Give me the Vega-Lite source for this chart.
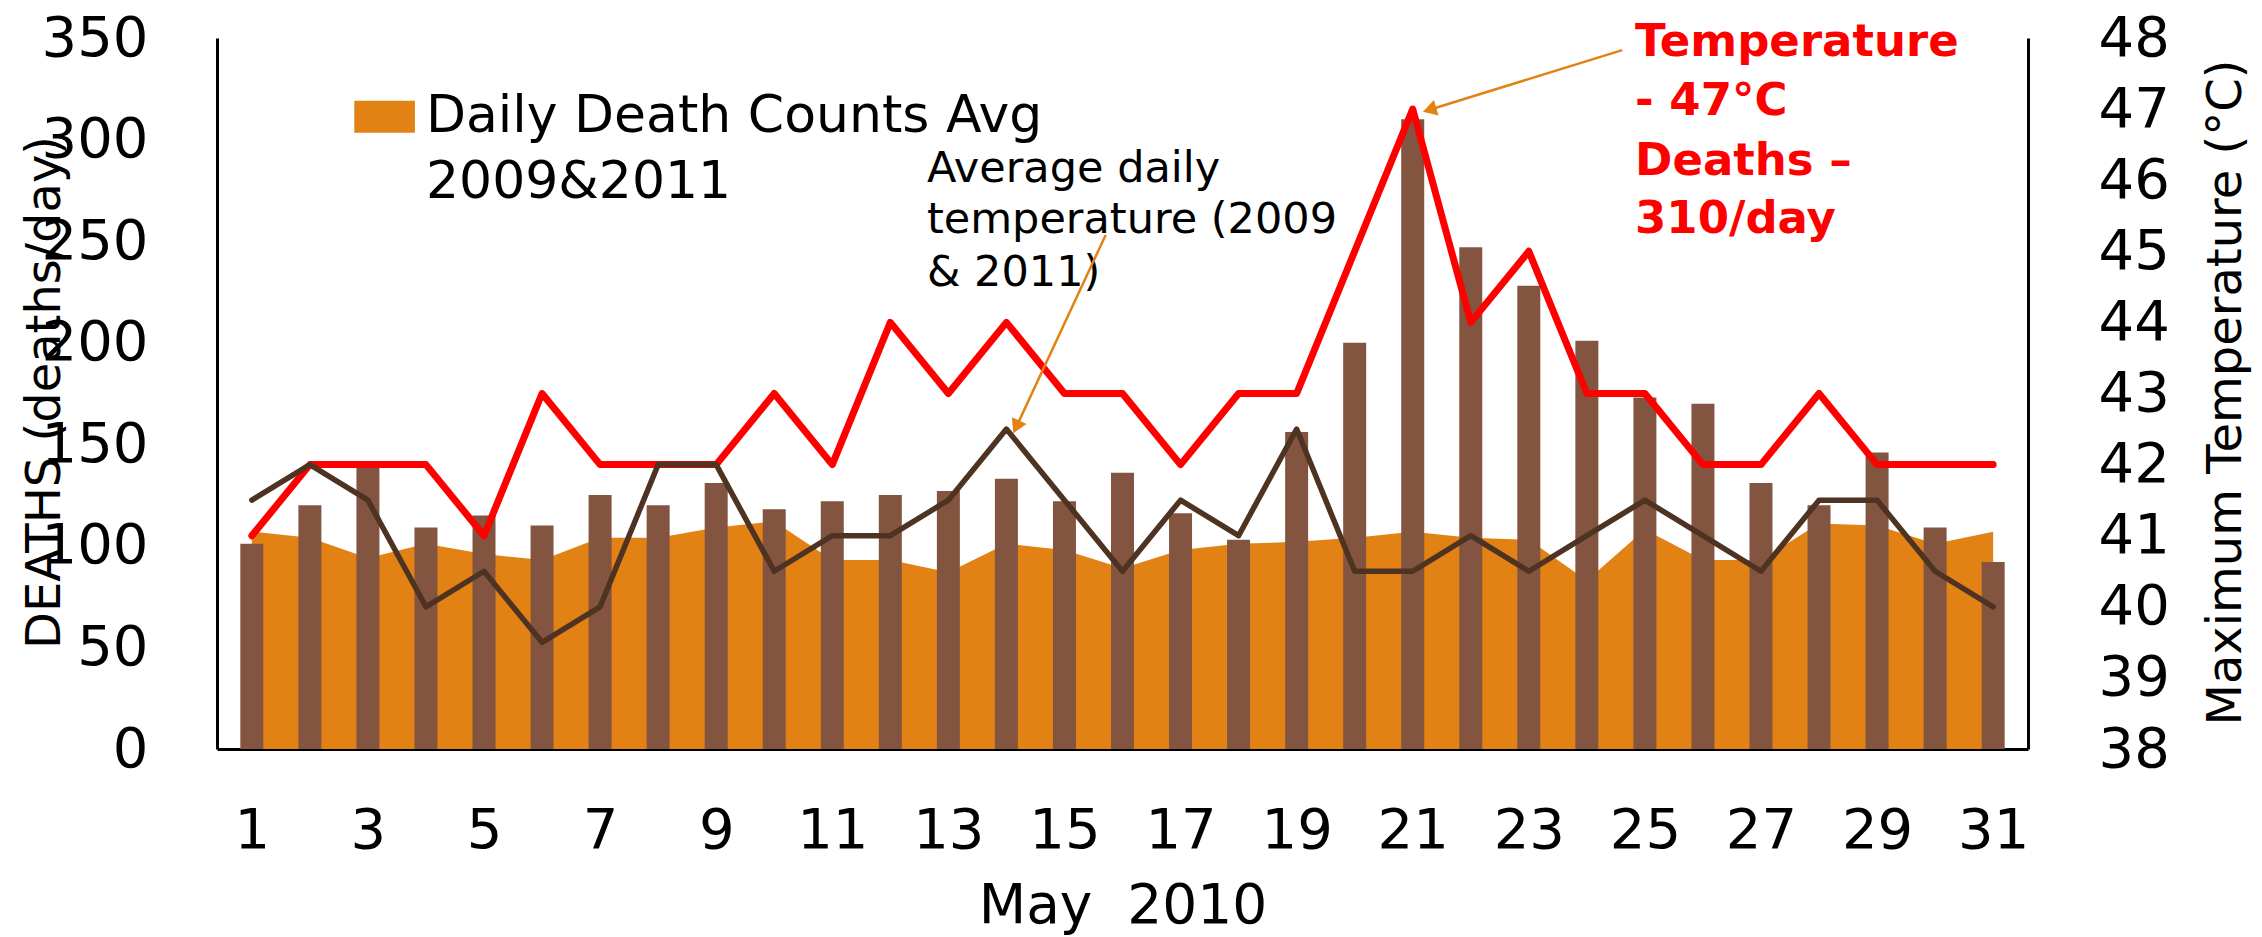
{
  "$schema": "https://vega.github.io/schema/vega-lite/v6.json",
  "width": 1811,
  "height": 711,
  "autosize": {"type": "none"},
  "padding": {"left": 217, "top": 38, "right": 234, "bottom": 188},
  "background": "white",
  "config": {
    "view": {"stroke": null},
    "font": "DejaVu Sans",
    "axis": {
      "grid": false, "ticks": false, "tickSize": 0,
      "domainColor": "black", "domainWidth": 3,
      "labelColor": "black", "titleColor": "black",
      "labelFont": "DejaVu Sans", "titleFont": "DejaVu Sans",
      "titleFontWeight": "normal", "labelFlush": false, "labelOverlap": false
    }
  },
  "datasets": {
    "daily": [
      {"day": 1, "deaths2010": 101, "deathsAvg": 107, "tmax2010": 41, "tavg": 41.5},
      {"day": 2, "deaths2010": 120, "deathsAvg": 104, "tmax2010": 42, "tavg": 42},
      {"day": 3, "deaths2010": 140, "deathsAvg": 94, "tmax2010": 42, "tavg": 41.5},
      {"day": 4, "deaths2010": 109, "deathsAvg": 101, "tmax2010": 42, "tavg": 40},
      {"day": 5, "deaths2010": 115, "deathsAvg": 96, "tmax2010": 41, "tavg": 40.5},
      {"day": 6, "deaths2010": 110, "deathsAvg": 93, "tmax2010": 43, "tavg": 39.5},
      {"day": 7, "deaths2010": 125, "deathsAvg": 104, "tmax2010": 42, "tavg": 40},
      {"day": 8, "deaths2010": 120, "deathsAvg": 104, "tmax2010": 42, "tavg": 42},
      {"day": 9, "deaths2010": 131, "deathsAvg": 109, "tmax2010": 42, "tavg": 42},
      {"day": 10, "deaths2010": 118, "deathsAvg": 112, "tmax2010": 43, "tavg": 40.5},
      {"day": 11, "deaths2010": 122, "deathsAvg": 93, "tmax2010": 42, "tavg": 41},
      {"day": 12, "deaths2010": 125, "deathsAvg": 93, "tmax2010": 44, "tavg": 41},
      {"day": 13, "deaths2010": 127, "deathsAvg": 87, "tmax2010": 43, "tavg": 41.5},
      {"day": 14, "deaths2010": 133, "deathsAvg": 101, "tmax2010": 44, "tavg": 42.5},
      {"day": 15, "deaths2010": 122, "deathsAvg": 98, "tmax2010": 43, "tavg": 41.5},
      {"day": 16, "deaths2010": 136, "deathsAvg": 89, "tmax2010": 43, "tavg": 40.5},
      {"day": 17, "deaths2010": 116, "deathsAvg": 98, "tmax2010": 42, "tavg": 41.5},
      {"day": 18, "deaths2010": 103, "deathsAvg": 101, "tmax2010": 43, "tavg": 41},
      {"day": 19, "deaths2010": 156, "deathsAvg": 102, "tmax2010": 43, "tavg": 42.5},
      {"day": 20, "deaths2010": 200, "deathsAvg": 104, "tmax2010": 45, "tavg": 40.5},
      {"day": 21, "deaths2010": 310, "deathsAvg": 107, "tmax2010": 47, "tavg": 40.5},
      {"day": 22, "deaths2010": 247, "deathsAvg": 104, "tmax2010": 44, "tavg": 41},
      {"day": 23, "deaths2010": 228, "deathsAvg": 103, "tmax2010": 45, "tavg": 40.5},
      {"day": 24, "deaths2010": 201, "deathsAvg": 83, "tmax2010": 43, "tavg": 41},
      {"day": 25, "deaths2010": 173, "deathsAvg": 108, "tmax2010": 43, "tavg": 41.5},
      {"day": 26, "deaths2010": 170, "deathsAvg": 93, "tmax2010": 42, "tavg": 41},
      {"day": 27, "deaths2010": 131, "deathsAvg": 93, "tmax2010": 42, "tavg": 40.5},
      {"day": 28, "deaths2010": 120, "deathsAvg": 111, "tmax2010": 43, "tavg": 41.5},
      {"day": 29, "deaths2010": 146, "deathsAvg": 110, "tmax2010": 42, "tavg": 41.5},
      {"day": 30, "deaths2010": 109, "deathsAvg": 101, "tmax2010": 42, "tavg": 40.5},
      {"day": 31, "deaths2010": 92, "deathsAvg": 107, "tmax2010": 42, "tavg": 40}
    ],
    "legendSwatch": [{"x1": 2.765, "x2": 3.81, "y1": 303.3, "y2": 319.05}],
    "legendText": [
      {"day": 4.0, "deaths": 303.8, "text": "Daily Death Counts Avg"},
      {"day": 4.0, "deaths": 271.3, "text": "2009&2011"}
    ],
    "noteAvg": [
      {"day": 12.63, "deaths": 279.2, "text": "Average daily"},
      {"day": 12.63, "deaths": 254.1, "text": "temperature (2009"},
      {"day": 12.63, "deaths": 228.0, "text": "& 2011)"}
    ],
    "notePeak": [
      {"day": 24.83, "deaths": 340.9, "text": "Temperature"},
      {"day": 24.83, "deaths": 312.2, "text": "- 47°C"},
      {"day": 24.83, "deaths": 282.6, "text": "Deaths –"},
      {"day": 24.83, "deaths": 254.1, "text": "310/day"}
    ],
    "arrows": [
      {"id": "peak", "day": 24.61, "temp": 47.83, "day2": 21.29, "temp2": 46.99},
      {"id": "avg", "day": 15.71, "temp": 45.23, "day2": 14.17, "temp2": 42.53}
    ]
  },
  "layer": [
    {
      "layer": [
        {
          "data": {"name": "daily"},
          "mark": {"type": "area", "color": "#E38214", "opacity": 1},
          "encoding": {
            "x": {
              "field": "day", "type": "quantitative", "title": "May\u00a0\u00a02010",
              "scale": {"domain": [0.486, 31.514], "nice": false, "zero": false},
              "axis": {
                "values": [1, 3, 5, 7, 9, 11, 13, 15, 17, 19, 21, 23, 25, 27, 29, 31],
                "format": "d",
                "labelFontSize": 56,
                "labelBaseline": "alphabetic",
                "labelPadding": 98,
                "titleFontSize": 55,
                "titleBaseline": "alphabetic",
                "titleY": 173
              }
            },
            "y": {
              "field": "deathsAvg", "type": "quantitative", "title": "DEATHS (deaths/day)",
              "scale": {"domain": [0, 350], "nice": false, "zero": true},
              "axis": {
                "values": [0, 50, 100, 150, 200, 250, 300, 350],
                "format": "d",
                "labelFontSize": 56,
                "labelPadding": 69,
                "titleFontSize": 48,
                "titleAngle": -90,
                "titleX": -172,
                "titleY": 354,
                "titleAlign": "center",
                "titleBaseline": "middle"
              }
            }
          }
        },
        {
          "data": {"name": "daily"},
          "mark": {"type": "bar", "color": "#835540", "width": 23},
          "encoding": {
            "x": {"field": "day", "type": "quantitative", "title": "May\u00a0\u00a02010"},
            "y": {"field": "deaths2010", "type": "quantitative", "title": "DEATHS (deaths/day)"}
          }
        },
        {
          "data": {"name": "legendSwatch"},
          "mark": {"type": "rect", "color": "#E38214"},
          "encoding": {
            "x": {"field": "x1", "type": "quantitative", "title": "May\u00a0\u00a02010"},
            "x2": {"field": "x2"},
            "y": {"field": "y1", "type": "quantitative", "title": "DEATHS (deaths/day)"},
            "y2": {"field": "y2"}
          }
        },
        {
          "data": {"name": "legendText"},
          "mark": {"type": "text", "align": "left", "baseline": "alphabetic", "fontSize": 52, "color": "black", "font": "DejaVu Sans"},
          "encoding": {
            "x": {"field": "day", "type": "quantitative", "title": "May\u00a0\u00a02010"},
            "y": {"field": "deaths", "type": "quantitative", "title": "DEATHS (deaths/day)"},
            "text": {"field": "text"}
          }
        },
        {
          "data": {"name": "noteAvg"},
          "mark": {"type": "text", "align": "left", "baseline": "alphabetic", "fontSize": 43, "color": "black", "font": "DejaVu Sans"},
          "encoding": {
            "x": {"field": "day", "type": "quantitative", "title": "May\u00a0\u00a02010"},
            "y": {"field": "deaths", "type": "quantitative", "title": "DEATHS (deaths/day)"},
            "text": {"field": "text"}
          }
        },
        {
          "data": {"name": "notePeak"},
          "mark": {"type": "text", "align": "left", "baseline": "alphabetic", "fontSize": 45, "fontWeight": "bold", "color": "#FF0000", "font": "DejaVu Sans"},
          "encoding": {
            "x": {"field": "day", "type": "quantitative", "title": "May\u00a0\u00a02010"},
            "y": {"field": "deaths", "type": "quantitative", "title": "DEATHS (deaths/day)"},
            "text": {"field": "text"}
          }
        }
      ]
    },
    {
      "layer": [
        {
          "data": {"name": "daily"},
          "mark": {"type": "line", "color": "#FF0000", "strokeWidth": 7, "strokeJoin": "round", "strokeCap": "round"},
          "encoding": {
            "x": {"field": "day", "type": "quantitative", "title": "May\u00a0\u00a02010"},
            "y": {
              "field": "tmax2010", "type": "quantitative", "title": "Maximum Temperature (°C)",
              "scale": {"domain": [38, 48], "nice": false, "zero": false},
              "axis": {
                "orient": "right",
                "values": [38, 39, 40, 41, 42, 43, 44, 45, 46, 47, 48],
                "format": "d",
                "labelFontSize": 56,
                "labelPadding": 70,
                "titleFontSize": 48,
                "titleAngle": -90,
                "titleX": 198,
                "titleY": 354,
                "titleAlign": "center",
                "titleBaseline": "middle"
              }
            }
          }
        },
        {
          "data": {"name": "daily"},
          "mark": {"type": "line", "color": "#4F3322", "strokeWidth": 5.5, "strokeJoin": "round", "strokeCap": "round"},
          "encoding": {
            "x": {"field": "day", "type": "quantitative", "title": "May\u00a0\u00a02010"},
            "y": {"field": "tavg", "type": "quantitative", "title": "Maximum Temperature (°C)"}
          }
        },
        {
          "data": {"name": "arrows"},
          "mark": {"type": "rule", "color": "#E38214", "strokeWidth": 2.5},
          "encoding": {
            "x": {"field": "day", "type": "quantitative", "title": "May\u00a0\u00a02010"},
            "y": {"field": "temp", "type": "quantitative", "title": "Maximum Temperature (°C)"},
            "x2": {"field": "day2"},
            "y2": {"field": "temp2"}
          }
        },
        {
          "data": {"name": "arrows"},
          "transform": [{"filter": "datum.id === 'peak'"}],
          "mark": {"type": "point", "shape": "triangle-up", "filled": true, "color": "#E38214", "opacity": 1, "size": 260, "angle": 253},
          "encoding": {
            "x": {"field": "day2", "type": "quantitative", "title": "May\u00a0\u00a02010"},
            "y": {"field": "temp2", "type": "quantitative", "title": "Maximum Temperature (°C)"}
          }
        },
        {
          "data": {"name": "arrows"},
          "transform": [{"filter": "datum.id === 'avg'"}],
          "mark": {"type": "point", "shape": "triangle-up", "filled": true, "color": "#E38214", "opacity": 1, "size": 260, "angle": 205},
          "encoding": {
            "x": {"field": "day2", "type": "quantitative", "title": "May\u00a0\u00a02010"},
            "y": {"field": "temp2", "type": "quantitative", "title": "Maximum Temperature (°C)"}
          }
        }
      ]
    }
  ],
  "resolve": {"scale": {"y": "independent"}, "axis": {"y": "independent"}}
}
